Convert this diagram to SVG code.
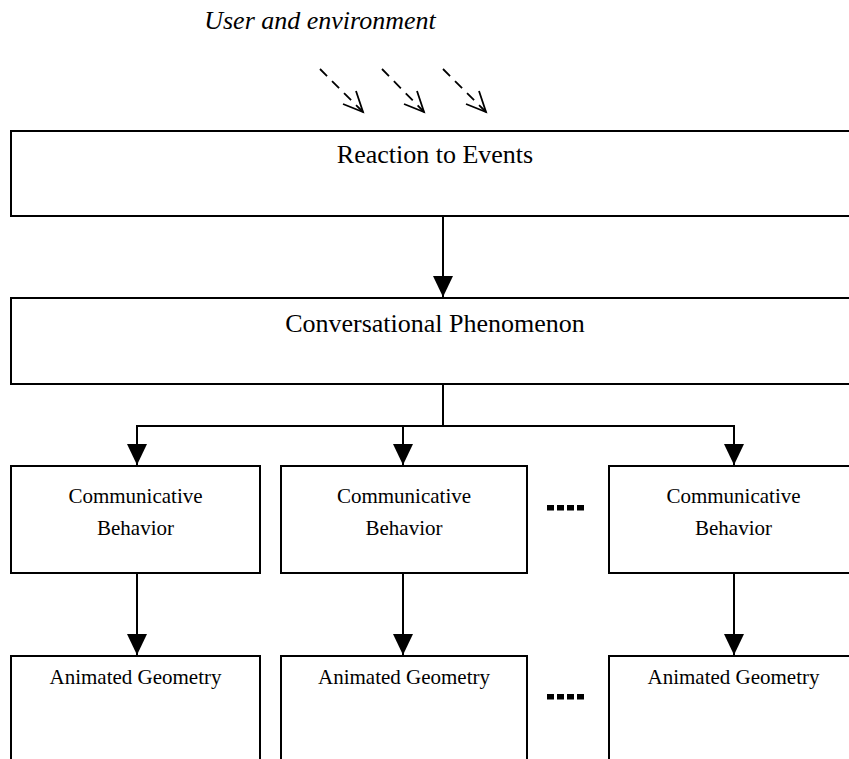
<svg xmlns="http://www.w3.org/2000/svg" width="849" height="759" viewBox="0 0 849 759">
  <style>
    .box { fill: #ffffff; stroke: #000000; stroke-width: 2; }
    .lbl { font-family: "Liberation Serif", "Times New Roman", serif; fill: #000000; text-anchor: middle; }
    .big { font-size: 26px; }
    .small { font-size: 21px; }
    .conn { fill: none; stroke: #000000; stroke-width: 2; }
    .dash { fill: none; stroke: #000000; stroke-width: 1.8; stroke-dasharray: 10 7; }
    .head { fill: none; stroke: #000000; stroke-width: 1.8; }
    .dot { fill: #000000; }
  </style>
  <defs>
    <marker id="arrow" markerUnits="userSpaceOnUse" markerWidth="21" markerHeight="20" viewBox="0 0 21 20" refX="21" refY="10" orient="auto">
      <path d="M0,0 L21,10 L0,20 Z" fill="#000000"/>
    </marker>
  </defs>

  <g id="title">
    <text class="lbl big" x="320" y="29" font-style="italic">User and environment</text>
  </g>

  <g id="inputs">
    <line class="dash" x1="320" y1="69" x2="363" y2="112"/>
    <polyline class="head" points="356,91 363,112 343,104"/>
    <line class="dash" x1="382" y1="69" x2="424" y2="112"/>
    <polyline class="head" points="417,91 424,112 404,104"/>
    <line class="dash" x1="443" y1="69" x2="486" y2="112"/>
    <polyline class="head" points="479,91 486,112 466,104"/>
  </g>

  <g id="reaction">
    <rect class="box" x="11" y="131" width="860" height="85"/>
    <text class="lbl big" x="435" y="163">Reaction to Events</text>
  </g>

  <g id="conversational">
    <rect class="box" x="11" y="298" width="860" height="86"/>
    <text class="lbl big" x="435" y="332">Conversational Phenomenon</text>
  </g>

  <g id="behavior1">
    <rect class="box" x="11" y="466" width="249" height="107"/>
    <text class="lbl small" x="135.5" y="503">Communicative</text>
    <text class="lbl small" x="135.5" y="535">Behavior</text>
  </g>
  <g id="behavior2">
    <rect class="box" x="281" y="466" width="246" height="107"/>
    <text class="lbl small" x="404" y="503">Communicative</text>
    <text class="lbl small" x="404" y="535">Behavior</text>
  </g>
  <g id="behavior3">
    <rect class="box" x="609" y="466" width="260" height="107"/>
    <text class="lbl small" x="733.5" y="503">Communicative</text>
    <text class="lbl small" x="733.5" y="535">Behavior</text>
  </g>

  <g id="geometry1">
    <rect class="box" x="11" y="656" width="249" height="120"/>
    <text class="lbl small" x="135.5" y="684">Animated Geometry</text>
  </g>
  <g id="geometry2">
    <rect class="box" x="281" y="656" width="246" height="120"/>
    <text class="lbl small" x="404" y="684">Animated Geometry</text>
  </g>
  <g id="geometry3">
    <rect class="box" x="609" y="656" width="260" height="120"/>
    <text class="lbl small" x="733.5" y="684">Animated Geometry</text>
  </g>

  <g id="ellipsis">
    <rect class="dot" x="547" y="505" width="7" height="5.5"/>
    <rect class="dot" x="557" y="505" width="7" height="5.5"/>
    <rect class="dot" x="567" y="505" width="7" height="5.5"/>
    <rect class="dot" x="577" y="505" width="7" height="5.5"/>
    <rect class="dot" x="547" y="694" width="7" height="5.5"/>
    <rect class="dot" x="557" y="694" width="7" height="5.5"/>
    <rect class="dot" x="567" y="694" width="7" height="5.5"/>
    <rect class="dot" x="577" y="694" width="7" height="5.5"/>
  </g>

  <g id="connectors">
    <path class="conn" d="M443,216 V297" marker-end="url(#arrow)"/>
    <path class="conn" d="M443,384 V426"/>
    <path class="conn" d="M136,426 H735"/>
    <path class="conn" d="M137,426 V465" marker-end="url(#arrow)"/>
    <path class="conn" d="M403,426 V465" marker-end="url(#arrow)"/>
    <path class="conn" d="M734,426 V465" marker-end="url(#arrow)"/>
    <path class="conn" d="M137,573 V655" marker-end="url(#arrow)"/>
    <path class="conn" d="M403,573 V655" marker-end="url(#arrow)"/>
    <path class="conn" d="M734,573 V655" marker-end="url(#arrow)"/>
  </g>
</svg>
